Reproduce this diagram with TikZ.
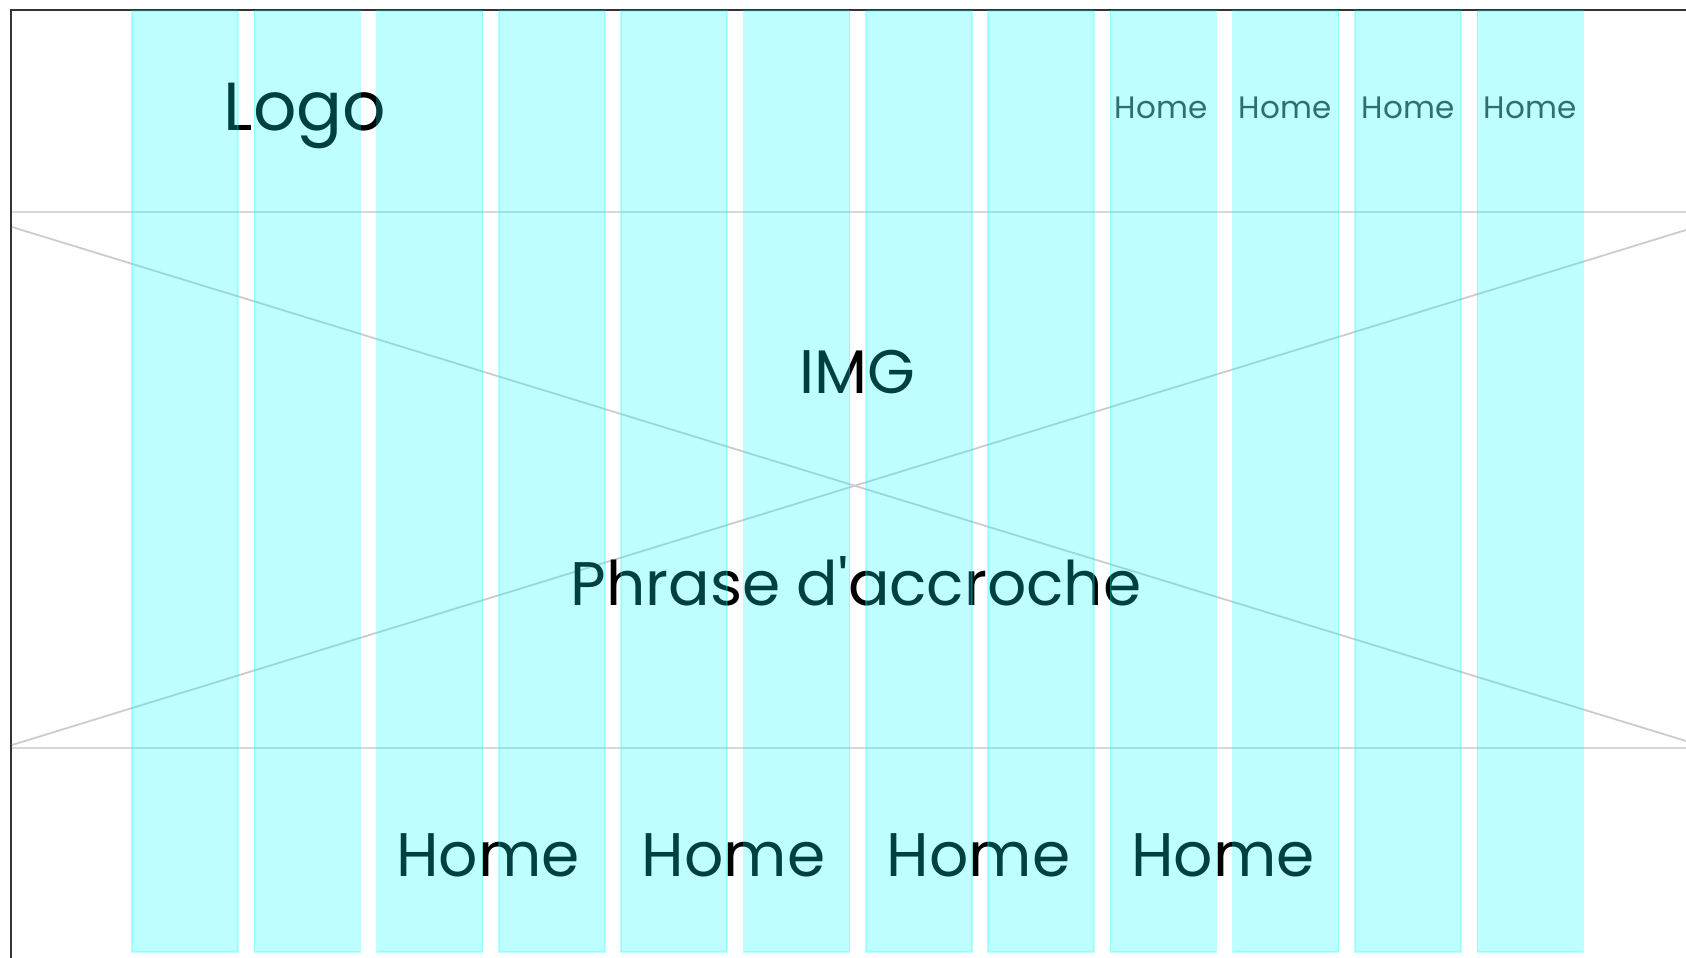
\documentclass[tikz,border=0pt]{standalone}
\usepackage{fontspec}
\setmainfont{Poppins}[Ligatures=TeXOff]
\definecolor{framegray}{HTML}{333333}
\definecolor{guidegray}{HTML}{D9D9D9}
\definecolor{diaggray}{HTML}{CCCCCC}
\definecolor{colcyan}{HTML}{00FFFF}
\tikzset{
  guide/.style={draw=guidegray, line width=2pt},
  diag/.style={draw=diaggray, line width=1.8pt},
  frameline/.style={draw=framegray, line width=2.2pt},
  gridcol/.style={fill=colcyan, fill opacity=0.25, draw=colcyan, draw opacity=0.25, line width=1.5pt},
  txt/.style={anchor=base, inner sep=0pt, text=black},
  logotxt/.style={txt, font=\fontsize{68}{68}\selectfont},
  navtxt/.style={txt, text=black!75, font=\fontsize{31}{31}\selectfont},
  bigtxt/.style={txt, font=\fontsize{61.5}{61.5}\selectfont},
}
\begin{document}
\begin{tikzpicture}[x=1pt, y=-1pt]
\useasboundingbox (0,0) rectangle (1686,958);
% frame
\coordinate (ftl) at (11,10);
\coordinate (fbl) at (11,958);
\coordinate (ftr) at (1686,10);
\draw[frameline] (fbl) -- (ftl) -- (ftr);
% guide lines
\coordinate (h1l) at (12,212);
\coordinate (h1r) at (1686,212);
\coordinate (h2l) at (12,748);
\coordinate (h2r) at (1686,748);
\draw[guide] (h1l) -- (h1r);
\draw[guide] (h2l) -- (h2r);
% image cross
\coordinate (d1a) at (12,227);
\coordinate (d1b) at (1686,741);
\coordinate (d2a) at (12,745);
\coordinate (d2b) at (1686,230);
\draw[diag] (d1a) -- (d1b);
\draw[diag] (d2a) -- (d2b);
% texts
\node[logotxt] (logo) at (305,130) {Logo};
\node[navtxt] (nav1) at (1161,118) {Home};
\node[navtxt] (nav2) at (1285,118) {Home};
\node[navtxt] (nav3) at (1408,118) {Home};
\node[navtxt] (nav4) at (1530,118) {Home};
\node[bigtxt] (img) at (857,393) {IMG};
\node[bigtxt] (phrase) at (856,605) {Phrase d'accroche};
\node[bigtxt] (foot1) at (488,876) {Home};
\node[bigtxt] (foot2) at (733.5,876) {Home};
\node[bigtxt] (foot3) at (978.5,876) {Home};
\node[bigtxt] (foot4) at (1223,876) {Home};
% grid columns overlay
\foreach \i in {0,...,11} {
  \path[gridcol] ({132+\i*122.3},11) rectangle ({238+\i*122.3},952);
}
\end{tikzpicture}
\end{document}
